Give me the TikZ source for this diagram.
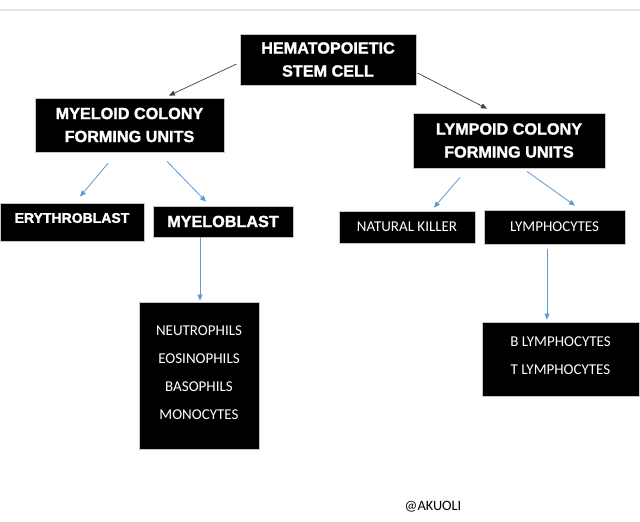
\documentclass[tikz,border=0pt]{standalone}
\usepackage{fontspec}
\setmainfont{Liberation Sans}[BoldFeatures={FakeBold=1.6}]
\newfontfamily\calibri{Carlito}
\usetikzlibrary{calc, arrows.meta}

\begin{document}
\begin{tikzpicture}[x=1pt, y=-1pt,
    headbox/.style={fill=black,draw=gray!45,line width=0.8pt,text=white,inner sep=0pt,align=center,
      font=\bfseries\fontsize{16.2}{23}\selectfont},
    cellbox/.style={fill=black,draw=gray!45,line width=0.8pt,text=white,inner sep=0pt,align=center,
      font=\calibri\fontsize{15}{28}\selectfont},
    darrow/.style={draw=black!75,line width=0.7pt,-{Triangle[length=6pt,width=5pt]}},
    barrow/.style={draw={rgb,255:red,91;green,155;blue,213},line width=0.8pt,-{Triangle[length=6pt,width=5pt]}} ]
    \useasboundingbox (0,0) rectangle (640,522);
    \fill [white] (0,0) rectangle (640,522);
    \draw [gray!20, line width=2pt] (0,9.5) -- (640,9.5);
    \node at (328,59.5) [headbox,minimum width=176,minimum height=51] (S) {HEMATOPOIETIC\\STEM CELL};
    \node at (129.5,125) [headbox,minimum width=189,minimum height=54] (M) {MYELOID COLONY\\FORMING UNITS};
    \node at (509,140.5) [headbox,minimum width=192,minimum height=55] (L) {LYMPOID COLONY\\FORMING UNITS};
    \node at (72,222) [headbox,minimum width=144,minimum height=38,font=\bfseries\fontsize{14}{17}\selectfont] (E) {\raisebox{4pt}[\height][\depth]{ERYTHROBLAST}};
    \node at (223,221.5) [headbox,minimum width=140,minimum height=31] (Mb) {MYELOBLAST};
    \node at (407,227) [cellbox,minimum width=136,minimum height=32] (NK) {NATURAL KILLER};
    \node at (554.5,227) [cellbox,minimum width=141,minimum height=34] (Ly) {LYMPHOCYTES};
    \node at (199,375.5) [cellbox,minimum width=120,minimum height=147] (G) {\raisebox{3.5pt}[\height][\depth]{\begin{tabular}{@{}c@{}}NEUTROPHILS\\EOSINOPHILS\\BASOPHILS\\MONOCYTES\end{tabular}}};
    \node at (560.5,359) [cellbox,minimum width=157,minimum height=74] (BT) {\raisebox{4pt}[\height][\depth]{\begin{tabular}{@{}c@{}}B LYMPHOCYTES\\T LYMPHOCYTES\end{tabular}}};
    \node at (433,507) [font=\calibri\fontsize{14.3}{17}\selectfont] (tag) {@AKUOLI};
    \draw [darrow] ($(S.west)+(-3,4.5)$) to ($(M.north)+(39.5,-2)$);
    \draw [darrow] ($(S.east)+(1,13.5)$) to ($(L.north)+(-22,-4)$);
    \draw [barrow] ($(M.south)+(-21.5,11)$) to ($(E.north)+(8,-6)$);
    \draw [barrow] ($(M.south)+(37.5,9)$) to ($(Mb.north)+(-17,-4)$);
    \draw [barrow] ($(L.south)+(-49,9)$) to ($(NK.north)+(27,-3)$);
    \draw [barrow] ($(L.south)+(18,3)$) to ($(Ly.north)+(20.5,-4)$);
    \draw [barrow] ($(Mb.south)+(-23,0)$) to ($(G.north)+(1,-1)$);
    \draw [barrow] ($(Ly.south)+(-7.5,5)$) to ($(BT.north)+(-13.5,-2)$);
\end{tikzpicture}
\end{document}
